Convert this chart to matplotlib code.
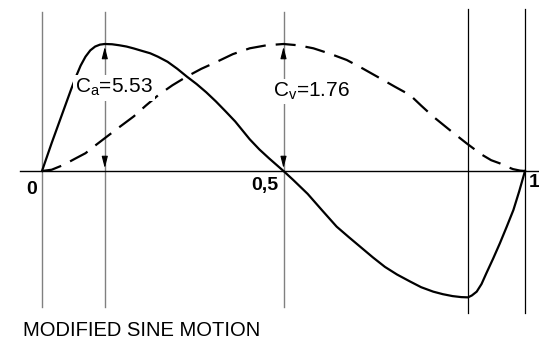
import matplotlib
matplotlib.use("Agg")
import matplotlib.pyplot as plt

plt.rcParams['font.family'] = ['Liberation Sans', 'DejaVu Sans']
plt.rcParams['mathtext.default'] = 'regular'

# acceleration (normalised to C_a)
t_acc = [0, 0.01, 0.02, 0.03, 0.04, 0.05, 0.06, 0.07, 0.08, 0.09, 0.10, 0.11,
         0.12, 0.13, 0.145, 0.16, 0.175, 0.19, 0.205, 0.224, 0.24, 0.26, 0.28,
         0.30, 0.32, 0.34, 0.36, 0.38, 0.40, 0.43, 0.45, 0.47, 0.485, 0.5, 0.52,
         0.55, 0.58, 0.61, 0.635, 0.66, 0.685, 0.71, 0.735, 0.762, 0.785, 0.81,
         0.83, 0.85, 0.868, 0.882, 0.89, 0.90, 0.91, 0.92, 0.934, 0.948, 0.962,
         0.976, 0.988, 1.0]
acc = [0, 0.11, 0.22, 0.325, 0.43, 0.535, 0.64, 0.74, 0.83, 0.90, 0.95, 0.98,
       0.995, 1.0, 0.998, 0.99, 0.98, 0.965, 0.948, 0.927, 0.90, 0.86, 0.805,
       0.743, 0.685, 0.62, 0.548, 0.47, 0.39, 0.25, 0.17, 0.10, 0.05, 0, -0.07,
       -0.18, -0.31, -0.438, -0.52, -0.60, -0.68, -0.755, -0.815, -0.87, -0.915, -0.95,
       -0.97, -0.985, -0.993, -0.995, -0.98, -0.95, -0.89, -0.805, -0.69, -0.569, -0.44,
       -0.307, -0.16, 0]

# velocity (normalised to C_v)
t_vel = [0, 0.02, 0.044, 0.07, 0.09, 0.11, 0.134, 0.16, 0.19, 0.215, 0.241, 0.27,
         0.2995, 0.33, 0.362, 0.395, 0.43, 0.465, 0.5, 0.53, 0.562, 0.595, 0.631,
         0.665, 0.70, 0.73, 0.762, 0.785, 0.81, 0.845, 0.879, 0.91, 0.93, 0.948,
         0.962, 0.975, 0.99, 1.0]
vel = [0, 0.01, 0.047, 0.10, 0.14, 0.20, 0.27, 0.345, 0.43, 0.515, 0.598, 0.675,
       0.743, 0.805, 0.86, 0.92, 0.966, 0.99, 1.0, 0.99, 0.966, 0.925, 0.874,
       0.805, 0.73, 0.665, 0.598, 0.515, 0.428, 0.32, 0.218, 0.13, 0.085, 0.06,
       0.035, 0.015, 0.003, 0]

grid_gray = [0, 0.13, 0.5]
grid_black = [0.882, 1.0]
tick_labels = ['0', '0,5', '1']
ca_label = 'C$_{a}$=5.53'
cv_label = 'C$_{v}$=1.76'
title = 'MODIFIED SINE MOTION'

fig = plt.figure(figsize=(5.39, 3.45), dpi=100)
ax = fig.add_axes([0, 0, 1, 1])
ax.set_xlim(-42 / 483, 497 / 483)
ax.set_ylim(-174 / 127, 171 / 127)
ax.axis('off')

# grid lines
for x in grid_gray:
    ax.plot([x, x], [-136 / 127, 159 / 127], color='#808080', lw=1.0, zorder=1)
for x in grid_black:
    ax.plot([x, x], [-142 / 127, 162 / 127], color='black', lw=0.9, zorder=1)
ax.plot([-22 / 483, 497 / 483], [0, 0], color='black', lw=1.0, zorder=1)

ax.plot(t_acc, acc, color='black', lw=1.6, zorder=3, solid_joinstyle='round')
ax.plot(t_vel, vel, color='black', lw=1.6, dashes=(9, 4.5), zorder=3)

# arrows marking the peaks
for x, top in [(0.13, 1.0), (0.5, 1.0)]:
    ax.annotate('', xy=(x, top), xytext=(x, top - 0.12),
                arrowprops=dict(arrowstyle='-|>,head_length=0.7,head_width=0.18',
                                color='black', lw=0.8), zorder=4)
    ax.annotate('', xy=(x, 0), xytext=(x, 0.12),
                arrowprops=dict(arrowstyle='-|>,head_length=0.7,head_width=0.18',
                                color='black', lw=0.8), zorder=4)

box = dict(facecolor='white', edgecolor='none', pad=1.5)
ax.text(0.068, 0.655, ca_label, fontsize=15, ha='left', va='center', bbox=box, zorder=5)
ax.text(0.478, 0.625, cv_label, fontsize=15, ha='left', va='center', bbox=box, zorder=5)

ax.text(-0.01, -0.08, tick_labels[0], fontsize=14, fontweight='bold', ha='right', va='top')
ax.text(0.49, -0.05, tick_labels[1], fontsize=14, fontweight='bold', ha='right', va='top')
ax.text(1.008, -0.02, tick_labels[2], fontsize=14, fontweight='bold', ha='left', va='top')

fig.text(23 / 539, 1 - 330 / 345, title, fontsize=14.5, ha='left', va='center')

fig.savefig('out.png', dpi=100, facecolor='white')
